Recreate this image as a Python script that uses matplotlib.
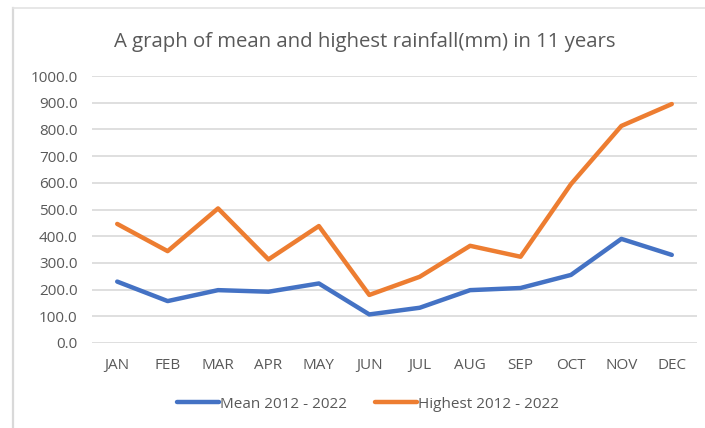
import numpy as np
import matplotlib.pyplot as plt
from matplotlib.lines import Line2D

months = ["JAN", "FEB", "MAR", "APR", "MAY", "JUN", "JUL", "AUG", "SEP", "OCT", "NOV", "DEC"]
mean_rain = [230, 157, 198, 192, 223, 107, 132, 198, 206, 255, 390, 330]
highest_rain = [446, 344, 504, 313, 438, 180, 248, 364, 323, 595, 813, 895]
yticks = np.arange(0, 1001, 100)

plt.rcParams['font.family'] = ['Open Sans', 'DejaVu Sans']

fig = plt.figure(figsize=(7.05, 4.28), dpi=100)
ax = fig.add_axes([92 / 705, 1 - 343 / 428, 605 / 705, 267 / 428])

x = np.arange(len(months))
ax.plot(x, mean_rain, color="#4472C4", lw=3.2, solid_capstyle="round", solid_joinstyle="round",
        label="Mean 2012 - 2022")
ax.plot(x, highest_rain, color="#ED7D31", lw=3.2, solid_capstyle="round", solid_joinstyle="round",
        label="Highest 2012 - 2022")

ax.set_xlim(-0.5, len(months) - 0.5)
ax.set_ylim(0, 1000)
ax.set_yticks(yticks)
ax.set_yticklabels([f"{v:.1f}" for v in yticks])
ax.set_xticks(x)
ax.set_xticklabels(months)
ax.tick_params(length=0, labelsize=11, labelcolor="#595959")
ax.tick_params(axis="y", pad=10.5)
ax.tick_params(axis="x", pad=11)
ax.grid(axis="y", color="#d9d9d9", lw=1.2)
ax.set_axisbelow(True)
for s in ax.spines.values():
    s.set_visible(False)

fig.text(365 / 705, 1 - 42 / 428, "A graph of mean and highest rainfall(mm) in 11 years",
         ha="center", va="center", fontsize=14.7, color="#595959")

fig.legend(loc="center", bbox_to_anchor=(368 / 705, 1 - 404 / 428), ncol=2, frameon=False,
           fontsize=11, labelcolor="#595959", handlelength=2.75, handletextpad=0.05,
           columnspacing=1.8)

# chart frame (only left and top edges visible in the screenshot)
fig.add_artist(Line2D([13 / 705, 13 / 705], [0, 1 - 8 / 428], transform=fig.transFigure,
                      color="#d9d9d9", lw=1.6))
fig.add_artist(Line2D([13 / 705, 1], [1 - 8 / 428, 1 - 8 / 428], transform=fig.transFigure,
                      color="#e3e3e3", lw=1.2))

fig.savefig("out.png", dpi=100)
